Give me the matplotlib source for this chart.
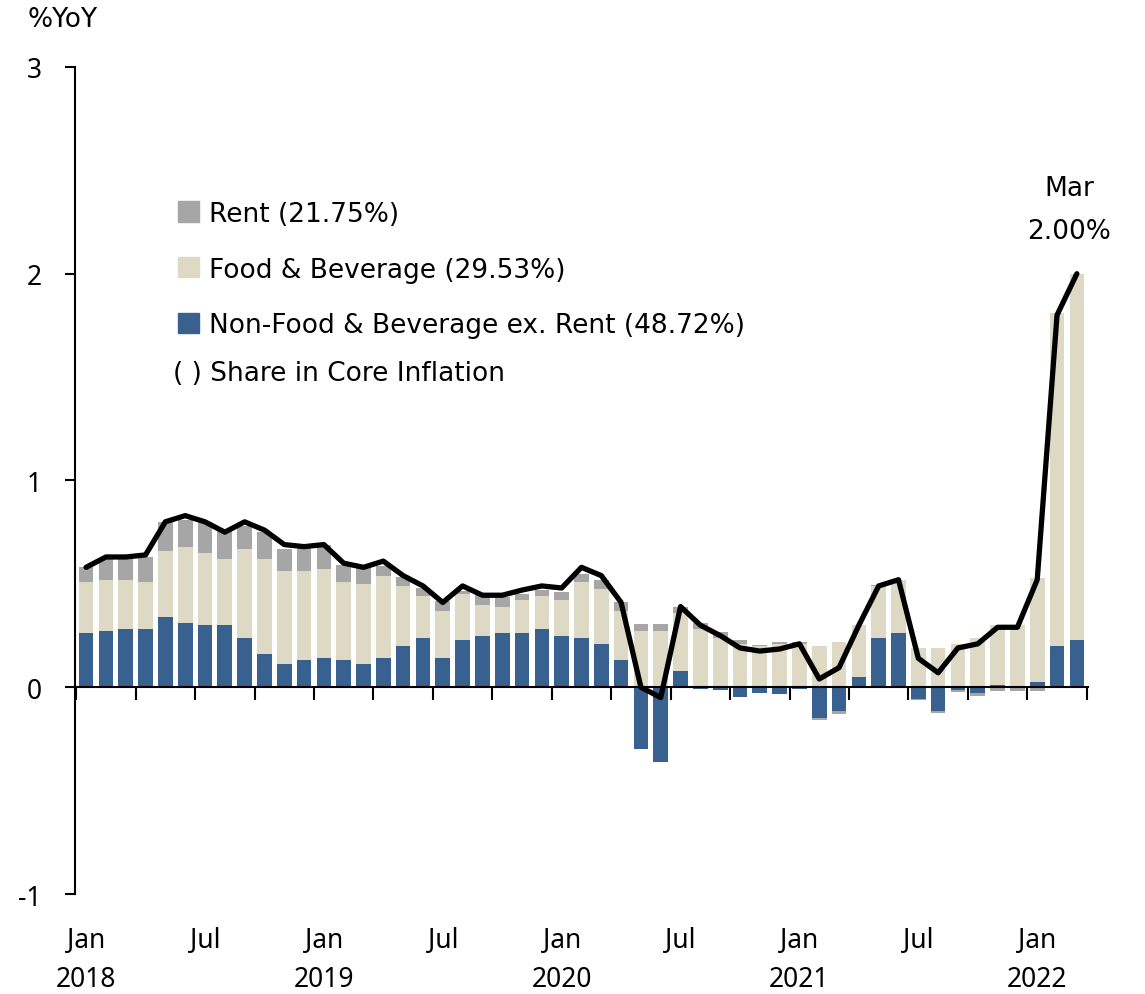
import numpy as np
import matplotlib.pyplot as plt
from matplotlib.patches import Patch

plt.rcParams['font.family'] = ['Noto Sans', 'DejaVu Sans']
wide = ['DejaVu Sans']

# contributions to core inflation, %YoY, monthly Jan 2018 - Mar 2022
nonfood = [0.26, 0.27, 0.28, 0.28, 0.34, 0.31, 0.30, 0.30, 0.24, 0.16, 0.11, 0.13,
           0.14, 0.13, 0.11, 0.14, 0.20, 0.24, 0.14, 0.23, 0.25, 0.26, 0.26, 0.28,
           0.25, 0.24, 0.21, 0.13, -0.30, -0.36, 0.08, -0.01, -0.015, -0.045, -0.03, -0.033,
           -0.01, -0.15, -0.115, 0.05, 0.24, 0.26, -0.055, -0.115, -0.012, -0.03, 0.013, 0.0,
           0.026, 0.20, 0.23]
food = [0.25, 0.25, 0.24, 0.23, 0.32, 0.37, 0.35, 0.32, 0.43, 0.46, 0.45, 0.43,
        0.43, 0.38, 0.39, 0.40, 0.29, 0.20, 0.23, 0.22, 0.15, 0.13, 0.16, 0.16,
        0.17, 0.27, 0.265, 0.24, 0.27, 0.27, 0.28, 0.28, 0.24, 0.21, 0.20, 0.21,
        0.21, 0.20, 0.22, 0.25, 0.25, 0.26, 0.19, 0.19, 0.21, 0.24, 0.29, 0.30,
        0.50, 1.61, 1.77]
rent = [0.07, 0.10, 0.10, 0.12, 0.14, 0.13, 0.15, 0.14, 0.11, 0.13, 0.11, 0.12,
        0.12, 0.08, 0.08, 0.045, 0.045, 0.04, 0.045, 0.016, 0.045, 0.045, 0.032, 0.03,
        0.043, 0.04, 0.045, 0.04, 0.037, 0.037, 0.03, 0.03, 0.025, 0.02, 0.006, 0.011,
        0.011, -0.009, -0.015, 0.0, 0.005, 0.0, -0.005, -0.008, -0.01, -0.012, -0.016, -0.02,
        -0.016, 0.0, 0.0]
core = [0.58, 0.63, 0.63, 0.64, 0.80, 0.83, 0.80, 0.75, 0.80, 0.76, 0.69, 0.68,
        0.69, 0.60, 0.58, 0.61, 0.54, 0.49, 0.41, 0.49, 0.445, 0.445, 0.47, 0.49,
        0.48, 0.58, 0.54, 0.41, 0.0, -0.05, 0.39, 0.30, 0.25, 0.19, 0.175, 0.185,
        0.21, 0.04, 0.095, 0.30, 0.49, 0.52, 0.14, 0.07, 0.19, 0.21, 0.29, 0.29,
        0.52, 1.80, 2.00]
month_labels = ['Jan\n2018', 'Jul', 'Jan\n2019', 'Jul', 'Jan\n2020', 'Jul', 'Jan\n2021', 'Jul', 'Jan\n2022']

x = np.arange(len(core))

fig = plt.figure(figsize=(11.45, 9.95), dpi=100)
ax = fig.add_axes([0.0655, 0.1005, 0.8845, 0.8312])

series = [(nonfood, '#386190', 'Non-Food & Beverage ex. Rent (48.72%)'),
          (food, '#DDD9C4', 'Food & Beverage (29.53%)'),
          (rent, '#A6A6A6', 'Rent (21.75%)')]
pos = np.zeros(len(x))
neg = np.zeros(len(x))
for vals, col, lab in series:
    v = np.array(vals)
    bottom = np.where(v >= 0, pos, neg)
    ax.bar(x, v, 0.74, bottom=bottom, color=col, zorder=2)
    pos = pos + np.clip(v, 0, None)
    neg = neg + np.clip(v, None, 0)

ax.plot(x, core, color='black', lw=3.8, zorder=3, solid_capstyle='round')

ax.set_xlim(-0.56, 50.55)
ax.set_ylim(-1, 3)
for s in ['top', 'right']:
    ax.spines[s].set_visible(False)
ax.spines['bottom'].set_position(('data', 0))
ax.spines['bottom'].set_linewidth(1.5)
ax.spines['left'].set_linewidth(1.5)

ax.set_yticks([-1, 0, 1, 2, 3])
ax.set_yticklabels(['-1', '0', '1', '2', '3'])
ax.tick_params(axis='y', direction='out', length=7, width=1.5, pad=17, labelsize=19)
ax.set_xticks(np.arange(-0.5, 51, 3))
ax.set_xticklabels([])
ax.tick_params(axis='x', direction='out', length=9, width=1.5)

for i, lab in enumerate(month_labels):
    parts = lab.split('\n')
    ax.text(i * 6, -0.056, parts[0], transform=ax.get_xaxis_transform(),
            ha='center', va='center', fontsize=19)
    if len(parts) > 1:
        ax.text(i * 6, -0.103, parts[1], transform=ax.get_xaxis_transform(),
                ha='center', va='center', fontsize=19)

fig.text(0.0236, 0.980, '%YoY', ha='left', va='center', fontsize=19, family=wide)

ax.text(49.6, 2.415, 'Mar', ha='center', va='center', fontsize=19, family=wide)
ax.text(49.6, 2.205, f'{core[-1]:.2f}%', ha='center', va='center', fontsize=19, family=wide)

handles = [Patch(color=c, label=l) for v, c, l in series[::-1]]
ax.legend(handles=handles, loc='upper left', bbox_to_anchor=(0.091, 0.851), frameon=False,
          prop={'family': wide, 'size': 19}, handlelength=0.8, handleheight=0.8,
          handletextpad=0.4, labelspacing=1.13, borderaxespad=0)
ax.text(0.097, 0.630, '( ) Share in Core Inflation', transform=ax.transAxes,
        ha='left', va='center', fontsize=19, family=wide)

fig.savefig('out.png', dpi=100)
